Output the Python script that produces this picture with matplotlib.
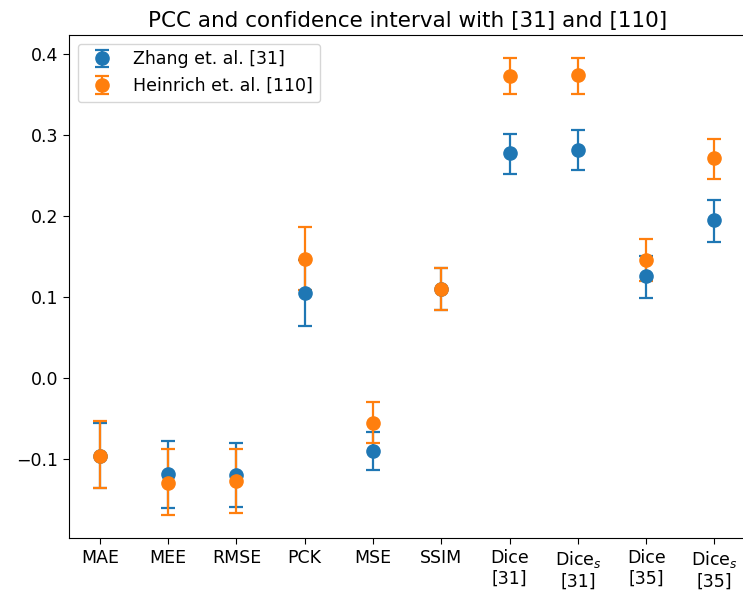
import matplotlib
matplotlib.use("Agg")
import matplotlib.pyplot as plt
import numpy as np

metrics = ["MAE", "MEE", "RMSE", "PCK", "MSE", "SSIM",
           "Dice\n[31]", "Dice$_s$\n[31]", "Dice\n[35]", "Dice$_s$\n[35]"]

# PCC with lower / upper bounds of the confidence interval
zhang_pcc = [-0.096, -0.119, -0.120, 0.105, -0.090, 0.110, 0.278, 0.281, 0.126, 0.195]
zhang_low = [-0.136, -0.160, -0.159, 0.064, -0.114, 0.084, 0.252, 0.257, 0.099, 0.168]
zhang_high = [-0.056, -0.078, -0.080, 0.146, -0.066, 0.136, 0.301, 0.306, 0.150, 0.220]

heinrich_pcc = [-0.096, -0.129, -0.127, 0.147, -0.055, 0.110, 0.373, 0.374, 0.145, 0.271]
heinrich_low = [-0.136, -0.169, -0.166, 0.108, -0.080, 0.084, 0.350, 0.350, 0.120, 0.246]
heinrich_high = [-0.053, -0.088, -0.087, 0.186, -0.030, 0.136, 0.395, 0.395, 0.172, 0.295]


def ci_err(pcc, low, high):
    pcc = np.asarray(pcc)
    return [pcc - np.asarray(low), np.asarray(high) - pcc]


plt.rcParams["font.size"] = 12.5
plt.rcParams["xtick.major.size"] = 4.5
plt.rcParams["ytick.major.size"] = 4.5

fig = plt.figure(figsize=(7.43, 6.01), dpi=100)
ax = fig.add_axes([0.093, 0.105, 0.91, 0.837])

x = np.arange(len(metrics))
ax.errorbar(x, zhang_pcc, yerr=ci_err(zhang_pcc, zhang_low, zhang_high),
            fmt="o", markersize=9.5, capsize=5, elinewidth=1.6,
            capthick=1.6, label="Zhang et. al. [31]")
ax.errorbar(x, heinrich_pcc, yerr=ci_err(heinrich_pcc, heinrich_low, heinrich_high),
            fmt="o", markersize=9.5, capsize=5, elinewidth=1.6,
            capthick=1.6, label="Heinrich et. al. [110]")

ax.set_xticks(x)
ax.set_xticklabels(metrics)
ax.set_title("PCC and confidence interval with [31] and [110]", fontsize=15.5)
ax.legend(loc="upper left")

fig.savefig("out.png", dpi=100)
